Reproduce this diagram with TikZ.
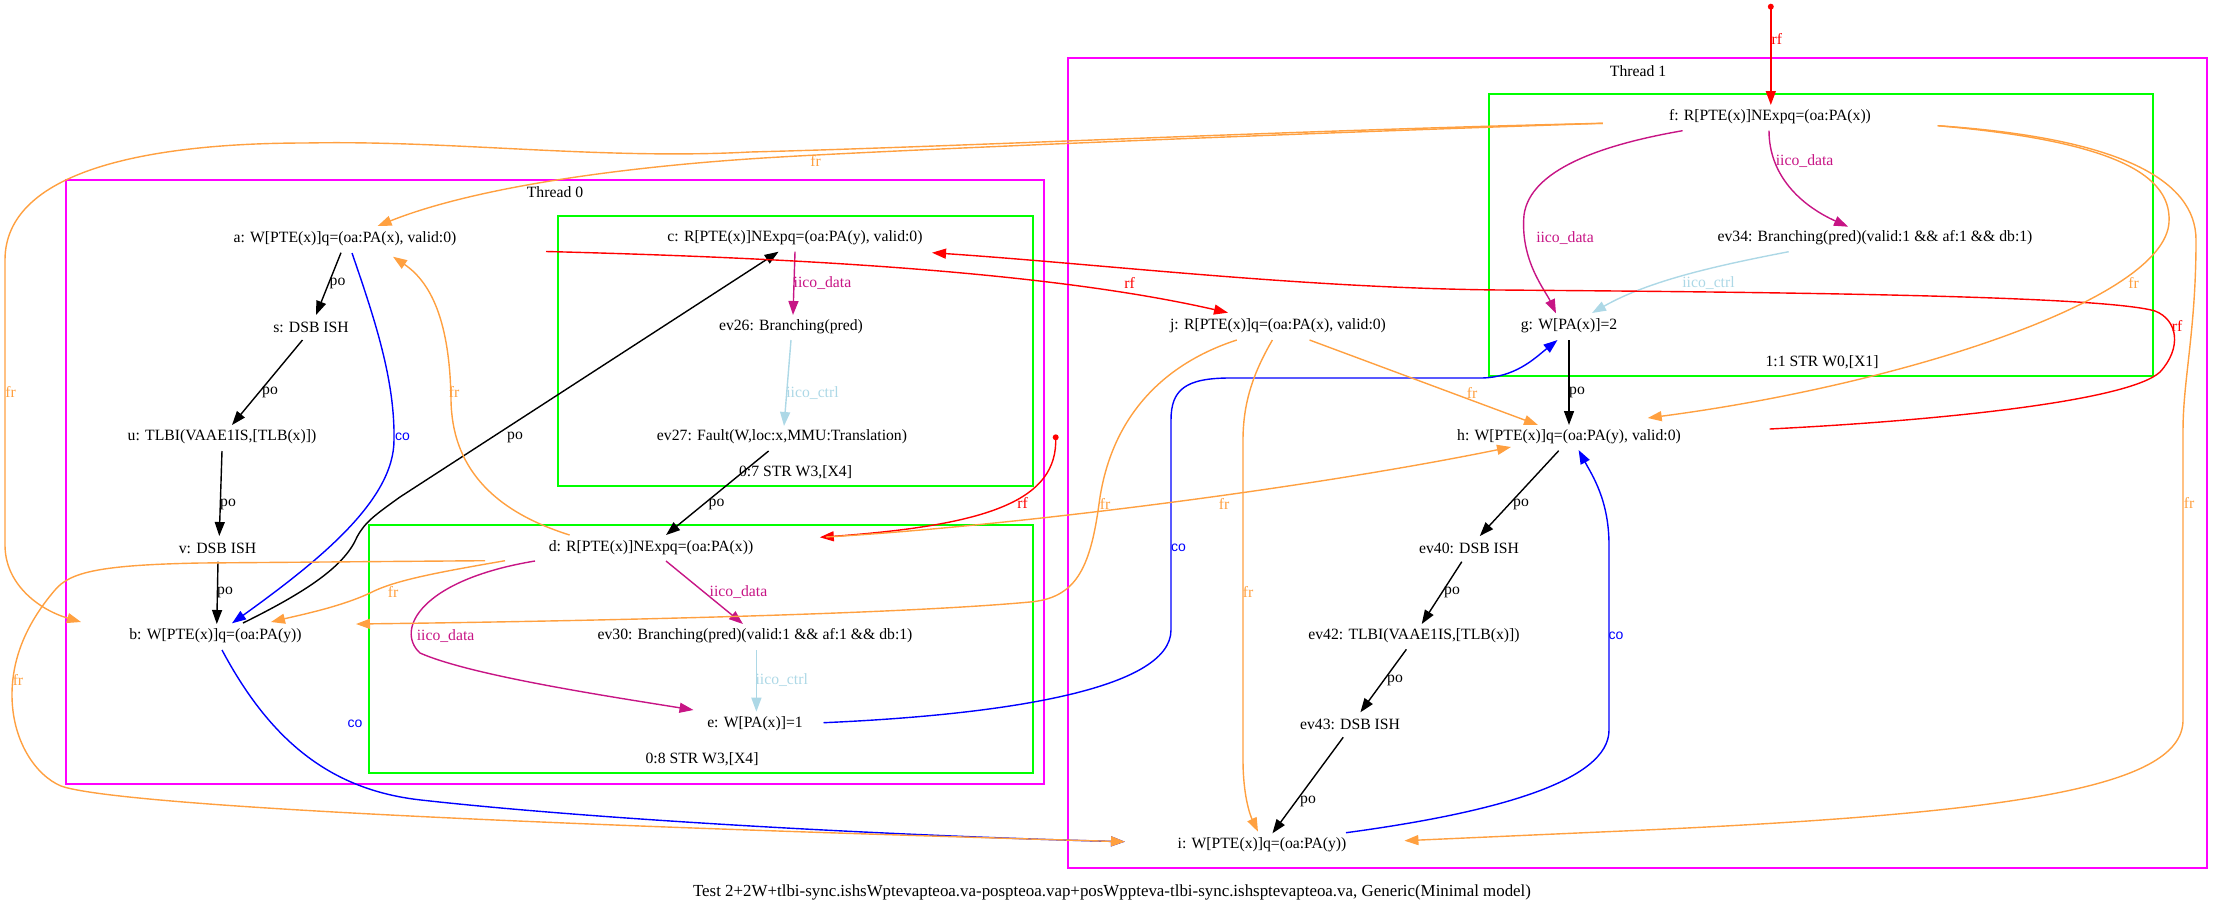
\documentclass[tikz,border=0pt]{standalone}
\usepackage{fontspec}
\setmainfont{Liberation Serif}
\newfontfamily\cofont{Liberation Sans}
\usetikzlibrary{arrows.meta,calc}
\definecolor{frc}{RGB}{255,160,64}
\definecolor{iicod}{RGB}{199,21,133}
\definecolor{iicoc}{RGB}{173,216,230}
\definecolor{thr}{RGB}{255,0,255}
\definecolor{grn}{RGB}{0,255,0}
\begin{document}
\begin{tikzpicture}[x=1pt,y=-1pt,
  every node/.style={inner sep=0pt, font=\fontsize{15.7}{18}\selectfont},
  arr/.style={line width=1.4pt, -{Triangle[length=14pt,width=10pt]}},
  poline/.style={arr, black},
  frline/.style={arr, frc},
  coline/.style={arr, blue},
  rfline/.style={arr, red},
  idline/.style={arr, iicod},
  icline/.style={arr, iicoc},
  thrbox/.style={draw=thr, line width=2pt},
  opbox/.style={draw=grn, line width=2pt},
  polbl/.style={text=black},
  frlbl/.style={text=frc},
  colbl/.style={text=blue, font=\cofont\fontsize{14}{16}\selectfont},
  rflbl/.style={text=red},
  idlbl/.style={text=iicod},
  iclbl/.style={text=iicoc},
  titlelbl/.style={font=\fontsize{16.9}{19}\selectfont},
  dotn/.style={circle, fill=red, minimum size=6pt, inner sep=0pt}
]
\useasboundingbox (0,0) rectangle (2223,911);
% clusters
\draw[thrbox] (65.5,180) rectangle (1044,783.5);
\draw[opbox] (558,215.7) rectangle (1033,486);
\draw[opbox] (369,525) rectangle (1032.5,773);
\draw[thrbox] (1067.5,58.3) rectangle (2206.5,868.3);
\draw[opbox] (1489.4,94.3) rectangle (2153,375.7);
\node (t0) at (555,191.7) {Thread 0};
\node (t1) at (1638,70.7) {Thread 1};
\node (k7) at (795.5,472.7) {0:7 STR W3,[X4]};
\node (k8) at (702,759.3) {0:8 STR W3,[X4]};
\node (k11) at (1822,362.3) {1:1 STR W0,[X1]};
% events
\node (a) at (345,239) {a: W[PTE(x)]q=(oa:PA(x), valid:0)};
\node (s) at (311,327) {s: DSB ISH};
\node (u) at (222,437) {u: TLBI(VAAE1IS,[TLB(x)])};
\node (v) at (217.5,548) {v: DSB ISH};
\node (b) at (215.5,636) {b: W[PTE(x)]q=(oa:PA(y))};
\node (c) at (795,238) {c: R[PTE(x)]NExpq=(oa:PA(y), valid:0)};
\node (ev26) at (791,327) {ev26: Branching(pred)};
\node (ev27) at (782,437) {ev27: Fault(W,loc:x,MMU:Translation)};
\node (d) at (651,548) {d: R[PTE(x)]NExpq=(oa:PA(x))};
\node (ev30) at (755,636) {ev30: Branching(pred)(valid:1 \&\& af:1 \&\& db:1)};
\node (e) at (755,724) {e: W[PA(x)]=1};
\node (f) at (1770,117) {f: R[PTE(x)]NExpq=(oa:PA(x))};
\node (ev34) at (1875,238) {ev34: Branching(pred)(valid:1 \&\& af:1 \&\& db:1)};
\node (j) at (1278,326) {j: R[PTE(x)]q=(oa:PA(x), valid:0)};
\node (g) at (1569,326) {g: W[PA(x)]=2};
\node (h) at (1569,437) {h: W[PTE(x)]q=(oa:PA(y), valid:0)};
\node (ev40) at (1469,548) {ev40: DSB ISH};
\node (ev42) at (1414,636) {ev42: TLBI(VAAE1IS,[TLB(x)])};
\node (ev43) at (1350,724) {ev43: DSB ISH};
\node (i) at (1262,845) {i: W[PTE(x)]q=(oa:PA(y))};
\node[dotn] (dot1) at (1055.7,437.3) {};
\node[dotn] (dot2) at (1770.8,6.7) {};
% po edges
\draw[poline] ($(a)+(-4,13.7)$) -- ($(s)+(5,-12)$);
\draw[poline] ($(s)+(-8.5,13)$) -- ($(u)+(10,-12)$);
\draw[poline] ($(u)+(0,14)$) -- ($(v)+(1.8,-12)$);
\draw[poline] ($(v)+(0.5,13.7)$) -- ($(b)+(1.3,-12)$);
\draw[poline] ($(b)+(27.5,-13)$) .. controls (310,590) and (345,565) .. (357,537) .. controls (365,522) and (375,515) .. (400,497) -- ($(c)+(-16.4,13.7)$);
\draw[poline] ($(ev27)+(-13.4,14)$) -- ($(d)+(15,-13)$);
\draw[poline] ($(g)+(0,14)$) -- ($(h)+(0,-12)$);
\draw[poline] ($(h)+(-10.3,13.7)$) -- ($(ev40)+(10.8,-12)$);
\draw[poline] ($(ev40)+(-7.2,13.7)$) -- ($(ev42)+(7.7,-12)$);
\draw[poline] ($(ev42)+(-7.6,13.3)$) -- ($(ev43)+(10.4,-11.7)$);
\draw[poline] ($(ev43)+(-6.8,13.3)$) -- ($(i)+(10.4,-11.7)$);
% iico
\draw[idline] ($(c)+(0,13.7)$) -- ($(ev26)+(2,-12)$);
\draw[icline] ($(ev26)+(0,13)$) -- ($(ev27)+(2,-11)$);
\draw[idline] ($(d)+(15,13)$) -- ($(ev30)+(-12,-12)$);
\draw[idline] ($(d)+(-116,13)$) .. controls (420,580) and (395,630) .. (420,653) .. controls (470,675) and (600,695) .. ($(e)+(-61.5,-14)$);
\draw[icline] ($(ev30)+(1.4,14)$) -- ($(e)+(1.4,-12.3)$);
\draw[idline] ($(f)+(-1,13.7)$) .. controls (1769,175) and (1800,205) .. ($(ev34)+(-27,-11.3)$);
\draw[idline] ($(f)+(-87.4,13.7)$) .. controls (1600,145) and (1530,170) .. (1524,215) .. controls (1520,260) and (1545,290) .. ($(g)+(-13,-12.7)$);
\draw[icline] ($(ev34)+(-86.3,13.7)$) .. controls (1720,265) and (1650,280) .. ($(g)+(23,-13)$);
% co
\draw[coline] ($(a)+(7,14)$) .. controls (375,320) and (395,380) .. (394,440) .. controls (394,500) and (320,560) .. ($(b)+(16.5,-12.7)$);
\draw[coline] ($(e)+(68.5,-1.3)$) .. controls (1000,715) and (1171,690) .. (1171,630) -- (1171,420) .. controls (1171,390) and (1185,378) .. (1230,378) -- (1480,378) .. controls (1515,378) and (1535,358) .. ($(g)+(-11.5,14)$);
\draw[coline] ($(i)+(84,-12.3)$) .. controls (1500,812) and (1609,780) .. (1609,730) -- (1609,545) .. controls (1609,500) and (1592,475) .. ($(h)+(9.6,13)$);
\draw[coline] ($(b)+(6.5,14)$) .. controls (270,740) and (330,790) .. (421,800) .. controls (600,820) and (900,836) .. ($(i)+(-137,-3.3)$);
% rf
\draw[rfline] ($(a)+(201,12.5)$) .. controls (800,258) and (1050,272) .. ($(j)+(-50,-13.3)$);
\draw[rfline] ($(h)+(200.6,-8)$) .. controls (1950,420) and (2130,400) .. (2160,372) .. controls (2182,348) and (2178,320) .. (2155,311) .. controls (2100,295) and (1750,292) .. (1500,290) .. controls (1300,288) and (1100,264) .. ($(c)+(137,14.7)$);
\draw[rfline] (dot1.center) .. controls (1058,500) and (990,525) .. ($(d)+(168.8,-10.7)$);
\draw[rfline] (dot2.center) -- ($(f)+(0.8,-12)$);
% fr
\draw[frline] ($(d)+(-166,12.7)$) -- (200,563) .. controls (100,565) and (70,572) .. (55,590) .. controls (25,625) and (12,660) .. (12,695) .. controls (12,740) and (35,775) .. (61,786) .. controls (100,800) and (350,820) .. ($(i)+(-137,-3.3)$);
\draw[frline] ($(d)+(-146,12.7)$) .. controls (440,572) and (395,580) .. (370,593) .. controls (340,607) and (300,615) .. ($(b)+(55.5,-14)$);
\draw[frline] ($(d)+(-81.4,-13)$) .. controls (490,510) and (452,465) .. (451,400) .. controls (450,330) and (435,285) .. ($(a)+(48,17.7)$);
\draw[frline] ($(d)+(175,-11)$) .. controls (1000,527) and (1300,490) .. ($(h)+(-58,10)$);
\draw[frline] ($(j)+(31.5,14)$) -- ($(h)+(-31,-12)$);
\draw[frline] ($(j)+(-41.2,14)$) .. controls (1160,365) and (1110,420) .. (1099,504) .. controls (1090,570) and (1075,598) .. (1030,602) .. controls (900,614) and (600,621) .. ($(b)+(140.5,-12)$);
\draw[frline] ($(j)+(-5.6,14)$) .. controls (1255,370) and (1243,400) .. (1243,440) -- (1243,760) .. controls (1243,795) and (1250,815) .. ($(i)+(-4,-13.3)$);
\draw[frline] ($(f)+(-167.2,6.3)$) .. controls (1250,135) and (900,150) .. (780,157) .. controls (640,165) and (480,185) .. ($(a)+(32.6,-13)$);
\draw[frline] ($(f)+(-167.2,6.3)$) .. controls (1300,130) and (950,147) .. (750,152) .. controls (600,160) and (450,140) .. (306,143) .. controls (150,143) and (5,170) .. (5,260) -- (5,545) .. controls (5,585) and (40,610) .. ($(b)+(-134.5,-14)$);
\draw[frline] ($(f)+(167.7,8.7)$) .. controls (2100,140) and (2172,170) .. (2169,222) .. controls (2165,300) and (1900,385) .. ($(h)+(78.7,-19)$);
\draw[frline] ($(f)+(167.7,8.7)$) .. controls (2120,138) and (2196,180) .. (2196,240) .. controls (2196,330) and (2183,380) .. (2183,430) -- (2183,720) .. controls (2183,790) and (2000,815) .. (1600,832) -- ($(i)+(142.4,-4.3)$);
% labels
\node[polbl] (lp1) at (337.5,283) {po};
\node[polbl] (lp2) at (270,392.7) {po};
\node[polbl] (lp3) at (228,504) {po};
\node[polbl] (lp4) at (225,592) {po};
\node[polbl] (lp5) at (515,437) {po};
\node[polbl] (lp6) at (716.5,504) {po};
\node[polbl] (lp7) at (1577,392.7) {po};
\node[polbl] (lp8) at (1521,504.3) {po};
\node[polbl] (lp9) at (1452,592) {po};
\node[polbl] (lp10) at (1395,680) {po};
\node[polbl] (lp11) at (1308,801) {po};
\node[colbl] (lc1) at (402.5,437) {co};
\node[colbl] (lc2) at (355,724) {co};
\node[colbl] (lc3) at (1178.6,547.7) {co};
\node[colbl] (lc4) at (1616,636) {co};
\node[idlbl] (ld1) at (822.5,282.7) {iico\_data};
\node[idlbl] (ld2) at (738.5,591.7) {iico\_data};
\node[idlbl] (ld3) at (445.6,635.7) {iico\_data};
\node[idlbl] (ld4) at (1804.6,160.7) {iico\_data};
\node[idlbl] (ld5) at (1565,238.3) {iico\_data};
\node[iclbl] (lk1) at (812.5,392.7) {iico\_ctrl};
\node[iclbl] (lk2) at (781.7,680) {iico\_ctrl};
\node[iclbl] (lk3) at (1708.5,282.7) {iico\_ctrl};
\node[rflbl] (lr1) at (1129.7,282.7) {rf};
\node[rflbl] (lr2) at (2177,326) {rf};
\node[rflbl] (lr3) at (1022.7,503.3) {rf};
\node[rflbl] (lr4) at (1776.8,39.3) {rf};
\node[frlbl] (lf1) at (10.7,392) {fr};
\node[frlbl] (lf2) at (454,392) {fr};
\node[frlbl] (lf3) at (393,591.7) {fr};
\node[frlbl] (lf4) at (18,680) {fr};
\node[frlbl] (lf5) at (815.6,161) {fr};
\node[frlbl] (lf6) at (1105,504) {fr};
\node[frlbl] (lf7) at (1224,504) {fr};
\node[frlbl] (lf8) at (1472,392.7) {fr};
\node[frlbl] (lf9) at (1248,591.7) {fr};
\node[frlbl] (lf10) at (2133.6,282.7) {fr};
\node[frlbl] (lf11) at (2189,503) {fr};
\node[titlelbl] (title) at (1112,892.3) {Test 2+2W+tlbi-sync.ishsWptevapteoa.va-pospteoa.vap+posWppteva-tlbi-sync.ishsptevapteoa.va, Generic(Minimal model)};
\end{tikzpicture}
\end{document}
